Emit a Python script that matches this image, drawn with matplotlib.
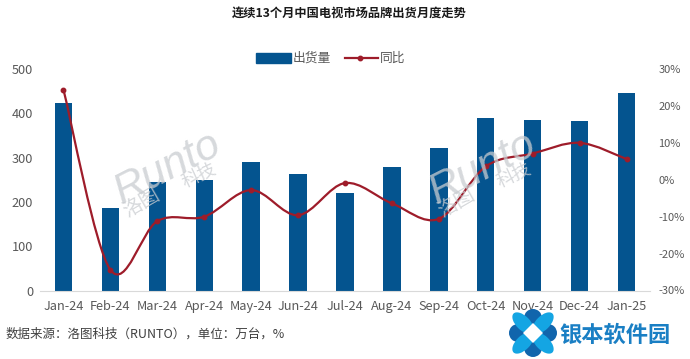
import numpy as np
import matplotlib
matplotlib.use("Agg")
import matplotlib.pyplot as plt
from matplotlib.path import Path
from matplotlib.patches import PathPatch, Ellipse, Rectangle, Polygon
from matplotlib.lines import Line2D

plt.rcParams['font.family'] = ['Noto Sans CJK SC', 'DejaVu Sans']

months = ["Jan-24","Feb-24","Mar-24","Apr-24","May-24","Jun-24","Jul-24","Aug-24","Sep-24","Oct-24","Nov-24","Dec-24","Jan-25"]
shipments = [423,186,245,250,291,263,221,279,322,389,385,382,445]
yoy = [24.4,-24.4,-11.2,-10,-2.8,-9.6,-0.9,-6.4,-10.6,3.6,7.1,10,5.6]
title = "连续13个月中国电视市场品牌出货月度走势"
source = "数据来源：洛图科技（RUNTO），单位：万台，%"

W, H = 690, 359
BLUE = "#04548f"; RED = "#9e1c2a"; GREY = "#595959"
fig = plt.figure(figsize=(W/100, H/100), dpi=100)
L, R, T, B = 40, 650, 69, 290.5
ax = fig.add_axes([L/W, 1-B/H, (R-L)/W, (B-T)/H])
x = np.arange(len(months))
ax.bar(x, shipments, width=0.37, color=BLUE, zorder=2)
ax.set_xlim(-0.5, 12.5)
ax.set_ylim(0, 500)
ax.set_yticks(range(0, 501, 100))
ax.set_xticks(x, months)
ax.tick_params(length=0, labelsize=9.2, labelcolor=GREY, pad=5)
ax.tick_params(axis='x', pad=7)
for s in ['top', 'right', 'left']:
    ax.spines[s].set_visible(False)
ax.spines['bottom'].set_color("#d9d9d9")

ax2 = ax.twinx()
ax2.set_ylim(-30, 30)
ax2.set_yticks(range(-30, 31, 10), [f"{v}%" for v in range(-30, 31, 10)])
ax2.tick_params(length=0, labelsize=8, labelcolor=GREY, pad=6)
for s in ax2.spines.values():
    s.set_visible(False)

# smooth curve through the data (Catmull-Rom style Bezier segments)
yv = np.array(yoy, float)
verts = [(x[0], yv[0])]; codes = [Path.MOVETO]
k = 1/6
for i in range(len(x)-1):
    p0 = i-1 if i > 0 else i
    p3 = i+2 if i+2 < len(x) else i+1
    verts += [(x[i]+k*(x[i+1]-x[p0]), yv[i]+k*(yv[i+1]-yv[p0])),
              (x[i+1]-k*(x[p3]-x[i]), yv[i+1]-k*(yv[p3]-yv[i])),
              (x[i+1], yv[i+1])]
    codes += [Path.CURVE4]*3
ax2.add_patch(PathPatch(Path(verts, codes), fill=False, ec=RED, lw=1.6, zorder=4))
ax2.plot(x, yv, ls='none', marker='o', ms=3.2, color=RED, zorder=5)

# watermarks
for px, py in [(168, 168), (483, 168)]:
    for txt, dx, dy, fs, rot in [("Runto", 0, 0, 31, 27), ("洛图", -26, 35, 14, 30), ("科技", 31, 8, 13, 25)]:
        fig.text((px+dx)/W, 1-(py+dy)/H, txt, fontsize=fs, rotation=rot, style='italic',
                 color="#c9ccd0", alpha=0.75, ha='center', va='center', zorder=10,
                 family=['Liberation Sans', 'Noto Sans CJK SC'])

fig.text(349/W, 1-13/H, title, fontsize=8.8, fontweight='bold', color="#1a1a1a", ha='center', va='center')
fig.text(6/W, 1-334/H, source, fontsize=9.0, color="#404040", ha='left', va='center')

# legend
fig.add_artist(Rectangle((256/W, 1-63/H), 35/W, 10/H, color=BLUE, transform=fig.transFigure))
fig.text(293/W, 1-58/H, "出货量", fontsize=9.2, color=GREY, ha='left', va='center')
fig.add_artist(Line2D([345/W, 378/W], [1-58/H]*2, color=RED, lw=1.6, transform=fig.transFigure))
fig.add_artist(Line2D([360/W], [1-58/H], color=RED, marker='o', ms=3.2, transform=fig.transFigure))
fig.text(380/W, 1-58/H, "同比", fontsize=9.2, color=GREY, ha='left', va='center')

# logo
logo = fig.add_axes([0, 0, 1, 1], zorder=20); logo.set_xlim(0, W); logo.set_ylim(H, 0); logo.axis('off')
cx, cy = 533, 333
for a in (0, 90, 180, 270):
    dx, dy = 15*np.cos(np.radians(a)), 15*np.sin(np.radians(a))
    logo.add_patch(Ellipse((cx+dx, cy+dy), 18, 18, angle=45, color="#1165ac", lw=0))
for a in (45, 135, 225, 315):
    dx, dy = 14*np.cos(np.radians(a)), 14*np.sin(np.radians(a))
    logo.add_patch(Ellipse((cx+dx, cy+dy), 27, 14, angle=a, color="#14a5e3", lw=0))
s = 10
logo.add_patch(Polygon([(cx, cy-s), (cx+s, cy), (cx, cy+s), (cx-s, cy)], color="white", lw=0))
logo.text(559, 335, "银本软件园", fontsize=16, fontweight='bold', color="#1a7fc4", ha='left', va='center')

fig.savefig("out.png", dpi=100)
